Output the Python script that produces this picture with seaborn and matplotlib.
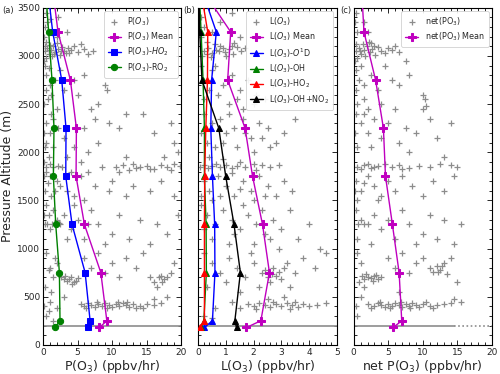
import numpy as np
import pandas as pd
import matplotlib
matplotlib.use("Agg")
import matplotlib.pyplot as plt
from matplotlib.ticker import MultipleLocator
import seaborn as sns

sns.set_theme(style="ticks")
plt.rcParams['font.family'] = ['DejaVu Sans']
plt.rcParams['mathtext.fontset'] = 'dejavusans'

# ---------------- mean profiles ----------------
alt = [180, 250, 750, 1250, 1750, 2250, 2750, 3250, 3750]
p_mean = [8.16, 9.23, 8.36, 5.99, 4.78, 4.83, 3.96, 2.17, 1.30]
p_ho2 = [6.47, 6.81, 6.09, 4.20, 3.29, 3.33, 2.71, 1.40, 0.60]
p_ro2 = [1.74, 2.46, 2.37, 1.84, 1.50, 1.59, 1.30, 0.82, 0.30]
l_mean = [1.74, 2.26, 2.57, 2.32, 1.96, 1.69, 1.06, 1.17, 0.00]
l_o1d = [0.22, 0.51, 0.60, 0.59, 0.51, 0.45, 0.48, 0.65, 0.05]
l_oh = [0.10, 0.20, 0.29, 0.28, 0.22, 0.22, 0.17, 0.10, 0.02]
l_ho2 = [0.07, 0.22, 0.22, 0.22, 0.23, 0.27, 0.33, 0.34, 0.05]
l_ohno2 = [1.38, 1.32, 1.52, 1.29, 0.99, 0.74, 0.13, 0.05, 0.02]
net_mean = [5.71, 6.95, 6.57, 5.60, 4.60, 4.30, 3.17, 1.49, 1.10]

# ---------------- individual samples (x, altitude) ----------------
p_pts = [
    (0.3,3050),(0.6,3080),(0.9,3020),(1.2,3060),(1.5,3100),(1.8,3040),(2.1,3070),(2.4,3010),(2.7,3090),(3.0,3050),
    (3.3,3030),(3.6,3080),(4.0,3060),(4.5,3100),(5.0,3040),(5.5,3120),(6.0,3070),(6.5,3020),(7.2,3050),(0.5,2980),
    (1.0,3110),(2.0,3130),(0.2,2950),(0.4,3150),(0.8,3060),(1.6,3020),(2.6,3050),(3.8,3030),(0.3,3100),(1.3,3000),
    (0.5,3450),(1.0,3380),(0.3,3300),(2.2,3400),(2.0,3200),(0.8,3250),(3.5,3250),(0.2,3200),(0.6,3350),
    (0.3,2900),(0.5,2800),(1.0,2700),(1.2,2600),(0.7,2550),(2.5,2850),(3.0,2650),(4.5,2750),(5.0,2600),(6.0,2800),
    (7.0,2450),(8.0,2500),(9.0,2700),(9.2,2650),(0.2,2500),(1.5,2350),(2.0,2450),(0.4,2650),(0.8,2880),(1.8,2750),
    (10.5,1850),(11.5,1870),(12.5,1820),(13,1880),(14,1850),(15,1860),(16,1830),(17,1870),(18,1850),(19,1880),
    (19.8,1860),(11,1800),(12,1950),(17.5,1950),(19.5,2000),(13.5,1840),(15.5,1830),(18.5,1820),
    (0.5,2100),(1.0,2200),(0.3,2050),(1.5,2050),(3.0,2150),(6.0,2250),(7.5,2350),(8.0,2100),(11,2250),(12,2400),
    (14.5,2400),(16,2200),(18.5,2300),(19,2100),(3.5,1950),(5.5,1900),(6.5,2000),(0.8,1950),(0.2,1900),
    (0.4,2300),(0.2,2200),(1.2,2400),(2.2,2250),(9.5,2300),(4.5,2050),
    (0.5,1800),(1.0,1750),(1.5,1850),(2.0,1700),(2.5,1650),(3.5,1600),(4.5,1550),(5.5,1750),(6.5,1800),(7.5,1650),
    (8.5,1850),(9.5,1600),(10,1700),(12,1550),(13,1650),(15.5,1600),(17,1700),(19,1550),(0.3,1600),(1.2,1550),
    (4,1800),(6,1500),(0.2,1750),(0.7,1680),(1.7,1600),(2.8,1850),(0.4,1850),(1.0,1880),(2.2,1860),
    (0.4,1450),(0.8,1350),(1.5,1400),(2.0,1300),(2.5,1250),(3.0,1350),(4.0,1200),(5.0,1300),(6.0,1100),(7.0,1400),
    (8.0,1250),(9.0,1050),(10,1150),(11,1350),(12.5,1100),(14,1300),(15.5,1050),(16.5,1250),(18,1150),(19.5,1350),
    (0.3,1250),(1.8,1260),(1.0,1200),(3.5,1100),(0.6,1260),(1.3,1250),(2.3,1270),(0.2,1350),(4.5,1450),(6.5,1250),
    (0.5,950),(1.0,800),(1.5,700),(2.0,850),(3.0,680),(3.5,660),(4.0,700),(4.5,650),(5.0,690),(3.2,720),(4.2,630),
    (6.0,900),(7.0,800),(8.0,950),(9.0,750),(10,850),(11,700),(12,900),(13.5,800),(14.5,950),(15.5,700),(16,650),
    (17,720),(17.5,680),(18.5,750),(19,850),(16.5,600),(0.3,600),(1.2,550),(3.8,680),(4.8,660),(2.6,700),
    (16.8,700),(17.2,650),(18,700),(0.8,780),(1.8,900),
    (5.5,420),(6,400),(6.5,430),(7,410),(7.5,390),(8,420),(8.5,400),(9,430),(9.5,410),(10,390),(10.5,420),(11,400),
    (11.5,430),(12,410),(12.5,390),(13,420),(14,400),(15,420),(16,410),(17,430),(14.5,380),(1,450),(2,380),(3,500),
    (0.5,300),(1.5,250),(18,500),(16,480),(6.2,380),(7.8,440),(9.2,380),(10.8,440),(12.2,440),(13.5,380),
    (0.2,400),(0.8,350),
]
l_pts = [
    (0.2,3050),(0.35,3080),(0.5,3030),(0.65,3060),(0.8,3100),(0.95,3040),(1.1,3070),(1.25,3020),(1.4,3090),(1.55,3050),
    (1.7,3080),(1.0,3000),(0.6,3120),(1.3,3130),(0.45,2990),(0.15,3000),(0.3,3020),(0.75,3050),(1.2,3100),(0.9,3080),
    (0.1,3400),(0.2,3300),(0.5,3250),(1.2,3450),(0.8,3350),(1.5,3200),(0.3,3150),(0.1,3200),
    (0.1,2900),(0.3,2750),(0.5,2850),(0.9,2700),(1.2,2800),(1.5,2650),(1.8,2750),(2.1,2600),(2.4,2550),(0.7,2600),
    (1.1,2500),(1.6,2450),(2.0,2500),(2.7,2700),(3.0,2550),(0.2,2550),(0.4,2650),(0.6,2900),(1.4,2550),
    (0.2,2400),(0.5,2300),(0.8,2350),(1.0,2200),(1.3,2250),(1.6,2350),(1.9,2150),(2.2,2300),(2.5,2250),(2.8,2100),
    (3.1,2200),(3.5,2350),(0.3,2100),(0.6,2050),(1.4,2050),(2.0,2000),(2.6,2050),(0.1,2200),(1.1,2400),(1.7,2200),
    (2.3,2150),(0.9,2100),
    (0.05,1850),(0.2,1870),(0.35,1840),(0.5,1860),(0.65,1880),(0.8,1850),(1.0,1870),(1.2,1840),(1.4,1860),(1.7,1850),
    (2.0,1880),(2.3,1870),(2.6,1850),(2.9,1870),(0.4,1950),(0.9,1930),(1.5,1900),(2.1,1820),
    (0.2,1700),(0.4,1600),(0.7,1750),(1.0,1650),(1.3,1550),(1.6,1700),(1.9,1600),(2.2,1750),(2.5,1650),(2.8,1550),
    (3.1,1700),(3.4,1600),(0.1,1550),(0.5,1500),(2.0,1500),(1.2,1780),(1.5,1620),(2.4,1550),(0.8,1550),
    (0.1,1450),(0.3,1350),(0.6,1250),(0.9,1400),(1.2,1300),(1.5,1200),(1.8,1350),(2.1,1250),(2.4,1150),(2.7,1300),
    (3.0,1200),(3.3,1400),(3.6,1100),(4.0,1250),(4.4,1000),(0.5,1100),(1.1,1050),(2.0,1050),(2.9,1000),
    (1.6,1450),(2.3,1400),(2.6,1100),(1.3,1150),(0.2,1200),
    (0.2,950),(0.5,850),(0.8,750),(1.1,900),(1.4,800),(1.7,700),(2.0,850),(2.3,750),(2.5,700),(2.6,650),(2.7,800),
    (2.8,720),(3.0,680),(2.9,760),(3.2,850),(3.5,750),(3.8,900),(4.2,800),(4.6,950),(0.3,600),(1.0,650),(1.5,550),
    (2.2,600),(3.3,600),(2.4,780),(2.65,740),(3.1,800),(1.9,950),
    (1.8,420),(2.0,400),(2.2,430),(2.4,410),(2.6,390),(2.8,420),(3.0,400),(3.2,430),(3.4,410),(3.6,390),(3.8,420),
    (4.0,400),(4.3,410),(2.5,480),(3.1,500),(1.2,450),(0.6,380),(4.6,430),(0.2,300),(0.5,280),(2.1,370),(2.7,450),
    (3.3,370),(3.5,450),(1.5,380),
]
net_pts = [
    (0.3,3050),(0.7,3080),(1.1,3020),(1.5,3060),(1.9,3100),(2.3,3040),(2.7,3070),(3.1,3010),(3.5,3090),(4.0,3050),
    (4.5,3030),(5.0,3080),(5.5,3060),(6.0,3100),(6.5,3040),(0.5,2980),(1.3,3120),(2.5,3130),(0.2,2950),(7.5,2950),
    (0.9,3050),(1.7,3000),(2.9,3100),(0.4,3120),
    (0.3,3450),(1.5,3350),(2.0,3250),(0.5,3250),(2.2,3150),(0.2,3350),
    (0.3,2850),(0.8,2750),(1.5,2700),(2.5,2800),(3.5,2650),(4.5,2900),(5.5,2750),(6.5,2700),(8.0,2800),(10,2600),
    (10.3,2550),(0.5,2500),(1.5,2550),(2.0,2450),(4.0,2500),(6.0,2450),(10,2450),(10.5,2480),(0.3,2650),(1.0,2900),
    (0.3,2400),(1.0,2300),(2.0,2200),(3.0,2350),(4.0,2150),(5.0,2300),(6.5,2100),(7.5,2250),(9.0,2200),(11,2350),
    (12,2150),(14,2300),(0.5,2050),(2.5,2050),(8.0,2000),(0.2,2200),(1.5,2400),
    (0.5,1850),(1.5,1870),(2.5,1840),(3.5,1860),(4.5,1880),(5.5,1850),(6.5,1870),(8.0,1840),(9.5,1860),(11,1850),
    (12.5,1880),(14,1870),(15,1850),(13,1950),(1.0,1830),(2.0,1880),(3.0,1850),(7.0,1830),
    (0.3,1700),(1.0,1600),(2.0,1750),(3.0,1650),(4.0,1550),(5.0,1700),(6.0,1600),(7.0,1750),(8.5,1650),(10,1550),
    (11.5,1700),(13,1600),(14.5,1750),(0.5,1500),(3.5,1500),(0.2,1600),(1.5,1680),
    (0.3,1400),(1.0,1300),(2.0,1250),(3.0,1350),(4.0,1200),(5.0,1300),(6.0,1100),(7.0,1400),(8.0,1250),(9.0,1050),
    (10,1150),(11,1350),(12,1100),(13,1300),(14.5,1050),(15.5,1250),(0.5,1100),(2.5,1050),(0.6,1250),(1.5,1260),
    (0.5,950),(1.0,850),(1.2,720),(1.5,680),(2.0,700),(2.5,690),(3.0,710),(3.5,680),(4.0,700),(0.8,650),(5.0,900),
    (6.0,800),(7.0,950),(8.0,750),(9.0,850),(10,900),(11,800),(11.5,760),(12,820),(12.5,780),(13,850),(13.5,740),
    (14,900),(15,650),(1.5,600),(6.5,550),(1.8,740),(2.8,660),(3.3,730),(12.2,760),(12.8,820),
    (2.0,420),(3.0,400),(3.5,430),(4.0,410),(4.5,390),(5.0,420),(5.5,400),(6.0,430),(6.5,410),(7.0,390),(7.5,420),
    (8.0,400),(8.5,430),(9.0,410),(9.5,390),(10,420),(11,400),(12,410),(13,420),(14,430),(1.0,500),(0.5,300),
    (15.5,450),(14.5,480),(2.5,380),(3.8,440),(5.2,380),(6.8,440),(8.2,380),(10.5,440),(11.5,380),(0.3,400),
]
# near-surface samples (dense row at ~200 m)
surf_alt = 200
surf_a = [0, 20]
surf_b = [0, 5]
surf_c_solid = [0, 14.5]
surf_c_dotted = [14.5, 20]

xlabels = [r"P(O$_3$) (ppbv/hr)", r"L(O$_3$) (ppbv/hr)", r"net P(O$_3$) (ppbv/hr)"]
panel_tags = ["(a)", "(b)", "(c)"]

GRAY = "#8c8c8c"
MAG = "#BF00BF"
BLU = "#0000FF"
GRN = "#008000"
RED = "#FF0000"
BLK = "#000000"

fig = plt.figure(figsize=(5.0, 3.74), dpi=100)
axes = fig.subplots(1, 3, sharey=True)
fig.subplots_adjust(left=0.086, right=0.984, bottom=0.078, top=0.979, wspace=0.123)


def cloud(ax, pts, label):
    df = pd.DataFrame(pts, columns=["x", "y"])
    sns.scatterplot(data=df, x="x", y="y", ax=ax, marker="+", color=GRAY, s=15,
                    linewidth=0.9, label=label, zorder=1)


def prof(ax, vals, color, marker, label, ms=4.5):
    sns.lineplot(x=vals, y=alt, ax=ax, sort=False, estimator=None, color=color,
                 marker=marker, markersize=ms, markeredgecolor=color,
                 markerfacecolor=color, linewidth=1.0, label=label, zorder=3)


ax = axes[0]
cloud(ax, p_pts, r"P($O_3$)")
ax.plot(surf_a, [surf_alt] * 2, color=GRAY, lw=1.2, zorder=1)
prof(ax, p_mean, MAG, "P", r"P($O_3$) Mean", ms=5.5)
prof(ax, p_ho2, BLU, "s", r"P($O_3$)-$HO_2$")
prof(ax, p_ro2, GRN, "o", r"P($O_3$)-RO$_2$")
ax.set_xlim(0, 20)
ax.xaxis.set_major_locator(MultipleLocator(5))
ax.xaxis.set_minor_locator(MultipleLocator(1))

ax = axes[1]
cloud(ax, l_pts, r"L($O_3$)")
ax.plot(surf_b, [surf_alt] * 2, color=GRAY, lw=1.2, zorder=1)
prof(ax, l_mean, MAG, "P", r"L($O_3$) Mean", ms=5.5)
prof(ax, l_o1d, BLU, "^", r"L($O_3$)-$O^1$D")
prof(ax, l_oh, GRN, "^", r"L($O_3$)-OH")
prof(ax, l_ho2, RED, "^", r"L($O_3$)-HO$_2$")
prof(ax, l_ohno2, BLK, "^", r"L($O_3$)-OH+NO$_2$")
ax.set_xlim(0, 5)
ax.xaxis.set_major_locator(MultipleLocator(1))
ax.xaxis.set_minor_locator(MultipleLocator(0.2))

ax = axes[2]
cloud(ax, net_pts, r"net(PO$_3$)")
ax.plot(surf_c_solid, [surf_alt] * 2, color=GRAY, lw=1.2, zorder=1)
ax.plot(surf_c_dotted, [surf_alt] * 2, color=GRAY, lw=1.2, ls=(0, (1, 1.5)), zorder=1)
prof(ax, net_mean, MAG, "P", r"net(PO$_3$) Mean", ms=5.5)
ax.set_xlim(0, 20)
ax.xaxis.set_major_locator(MultipleLocator(5))
ax.xaxis.set_minor_locator(MultipleLocator(1))

for i, ax in enumerate(axes):
    ax.set_ylim(0, 3500)
    ax.yaxis.set_major_locator(MultipleLocator(500))
    ax.yaxis.set_minor_locator(MultipleLocator(100))
    ax.tick_params(which="both", direction="in", top=True, right=True, labelsize=6.5,
                   width=0.7, pad=2)
    ax.tick_params(which="major", length=3.5)
    ax.tick_params(which="minor", length=2)
    for s in ax.spines.values():
        s.set_linewidth(0.8)
        s.set_color("black")
    ax.set_xlabel(xlabels[i], fontsize=9, labelpad=1)
    ax.set_ylabel("")
    leg = ax.legend(loc="upper right", fontsize=5.8, handlelength=1.6,
                    borderpad=0.5, labelspacing=0.35, handletextpad=0.8,
                    borderaxespad=0.4, framealpha=0.9)
    leg.get_frame().set_linewidth(0.6)

axes[0].set_ylabel("Pressure Altitude (m)", fontsize=9, labelpad=2)
axes[1].tick_params(labelleft=False)
axes[2].tick_params(labelleft=False)

tag_x = [0.004, 0.366, 0.680]
for tx, t in zip(tag_x, panel_tags):
    fig.text(tx, 0.972, t, fontsize=6, va="center", ha="left")

fig.savefig("out.png", dpi=100)
